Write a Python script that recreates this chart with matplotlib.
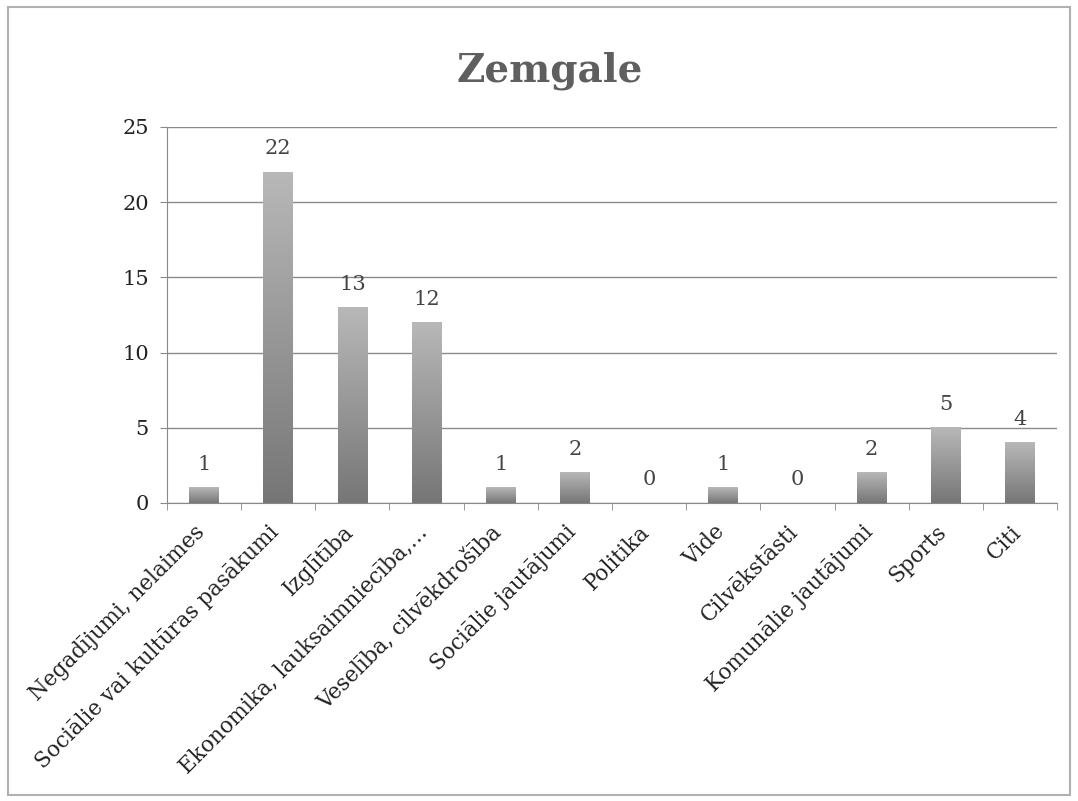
import numpy as np
import matplotlib
matplotlib.use("Agg")
import matplotlib.pyplot as plt
from matplotlib.patches import Rectangle
from matplotlib.transforms import ScaledTranslation

categories = [
    "Negadījumi, nelaimes",
    "Sociālie vai kultūras pasākumi",
    "Izglītība",
    "Ekonomika, lauksaimniecība,…",
    "Veselība, cilvēkdrošība",
    "Sociālie jautājumi",
    "Politika",
    "Vide",
    "Cilvēkstāsti",
    "Komunālie jautājumi",
    "Sports",
    "Citi",
]
counts = [1, 22, 13, 12, 1, 2, 0, 1, 0, 2, 5, 4]
y_ticks = [0, 5, 10, 15, 20, 25]
title = "Zemgale"


def main():
    plt.rcParams["font.family"] = ["DejaVu Serif"]
    fig = plt.figure(figsize=(10.78, 8.01), dpi=100)
    ax = fig.add_axes([167 / 1078, 1 - 503 / 801, 890 / 1078, 376 / 801])

    x = np.arange(len(categories))
    bars = ax.bar(x, counts, width=0.4, color="none", zorder=3)

    # vertical gray gradient inside each bar, light at top, darker at bottom
    grad = np.linspace(0, 1, 256).reshape(-1, 1)
    cmap = matplotlib.colors.LinearSegmentedColormap.from_list(
        "g", ["#767676", "#b8b8b8"])
    for b in bars:
        if b.get_height() <= 0:
            continue
        x0, y0 = b.get_x(), b.get_y()
        ax.imshow(grad, cmap=cmap, origin="lower", aspect="auto",
                  extent=(x0, x0 + b.get_width(), y0, y0 + b.get_height()),
                  zorder=3)
    for b, v in zip(bars, counts):
        ax.annotate(str(v), (b.get_x() + b.get_width() / 2, v),
                    xytext=(0, 10), textcoords="offset points",
                    ha="center", va="bottom", fontsize=15, color="#444444")

    ax.set_xlim(-0.5, len(categories) - 0.5)
    ax.set_ylim(0, 25)
    ax.set_yticks(y_ticks)
    ax.tick_params(axis="y", labelsize=15, length=5, color="#888888",
                   labelcolor="#222222", pad=8)
    ax.set_xticks(x)
    ax.set_xticklabels(categories, rotation=45, ha="right",
                       rotation_mode="anchor", fontsize=15.5, color="#222222")
    ax.tick_params(axis="x", length=0, pad=13)
    shift = ScaledTranslation(-10 / 100, 0, fig.dpi_scale_trans)
    for lbl in ax.get_xticklabels():
        lbl.set_transform(lbl.get_transform() + shift)
    ax.set_xticks(np.arange(-0.5, len(categories)), minor=True)
    ax.tick_params(axis="x", which="minor", length=5, color="#888888")

    ax.yaxis.grid(True, color="#8a8a8a", linewidth=1.0)
    ax.set_axisbelow(True)
    for s in ["top", "right"]:
        ax.spines[s].set_visible(False)
    ax.spines["left"].set_color("#888888")
    ax.spines["bottom"].set_color("#888888")

    fig.text(550 / 1078, 1 - 71 / 801, title, ha="center", va="center",
             fontsize=28, fontweight="bold", color="#5f5f5f")

    fig.patches.append(Rectangle((8 / 1078, 6 / 801), 1062 / 1078, 788 / 801,
                                 transform=fig.transFigure, fill=False,
                                 edgecolor="#b0b0b0", linewidth=1.5))

    fig.savefig("out.png", dpi=100)


if __name__ == "__main__":
    main()
